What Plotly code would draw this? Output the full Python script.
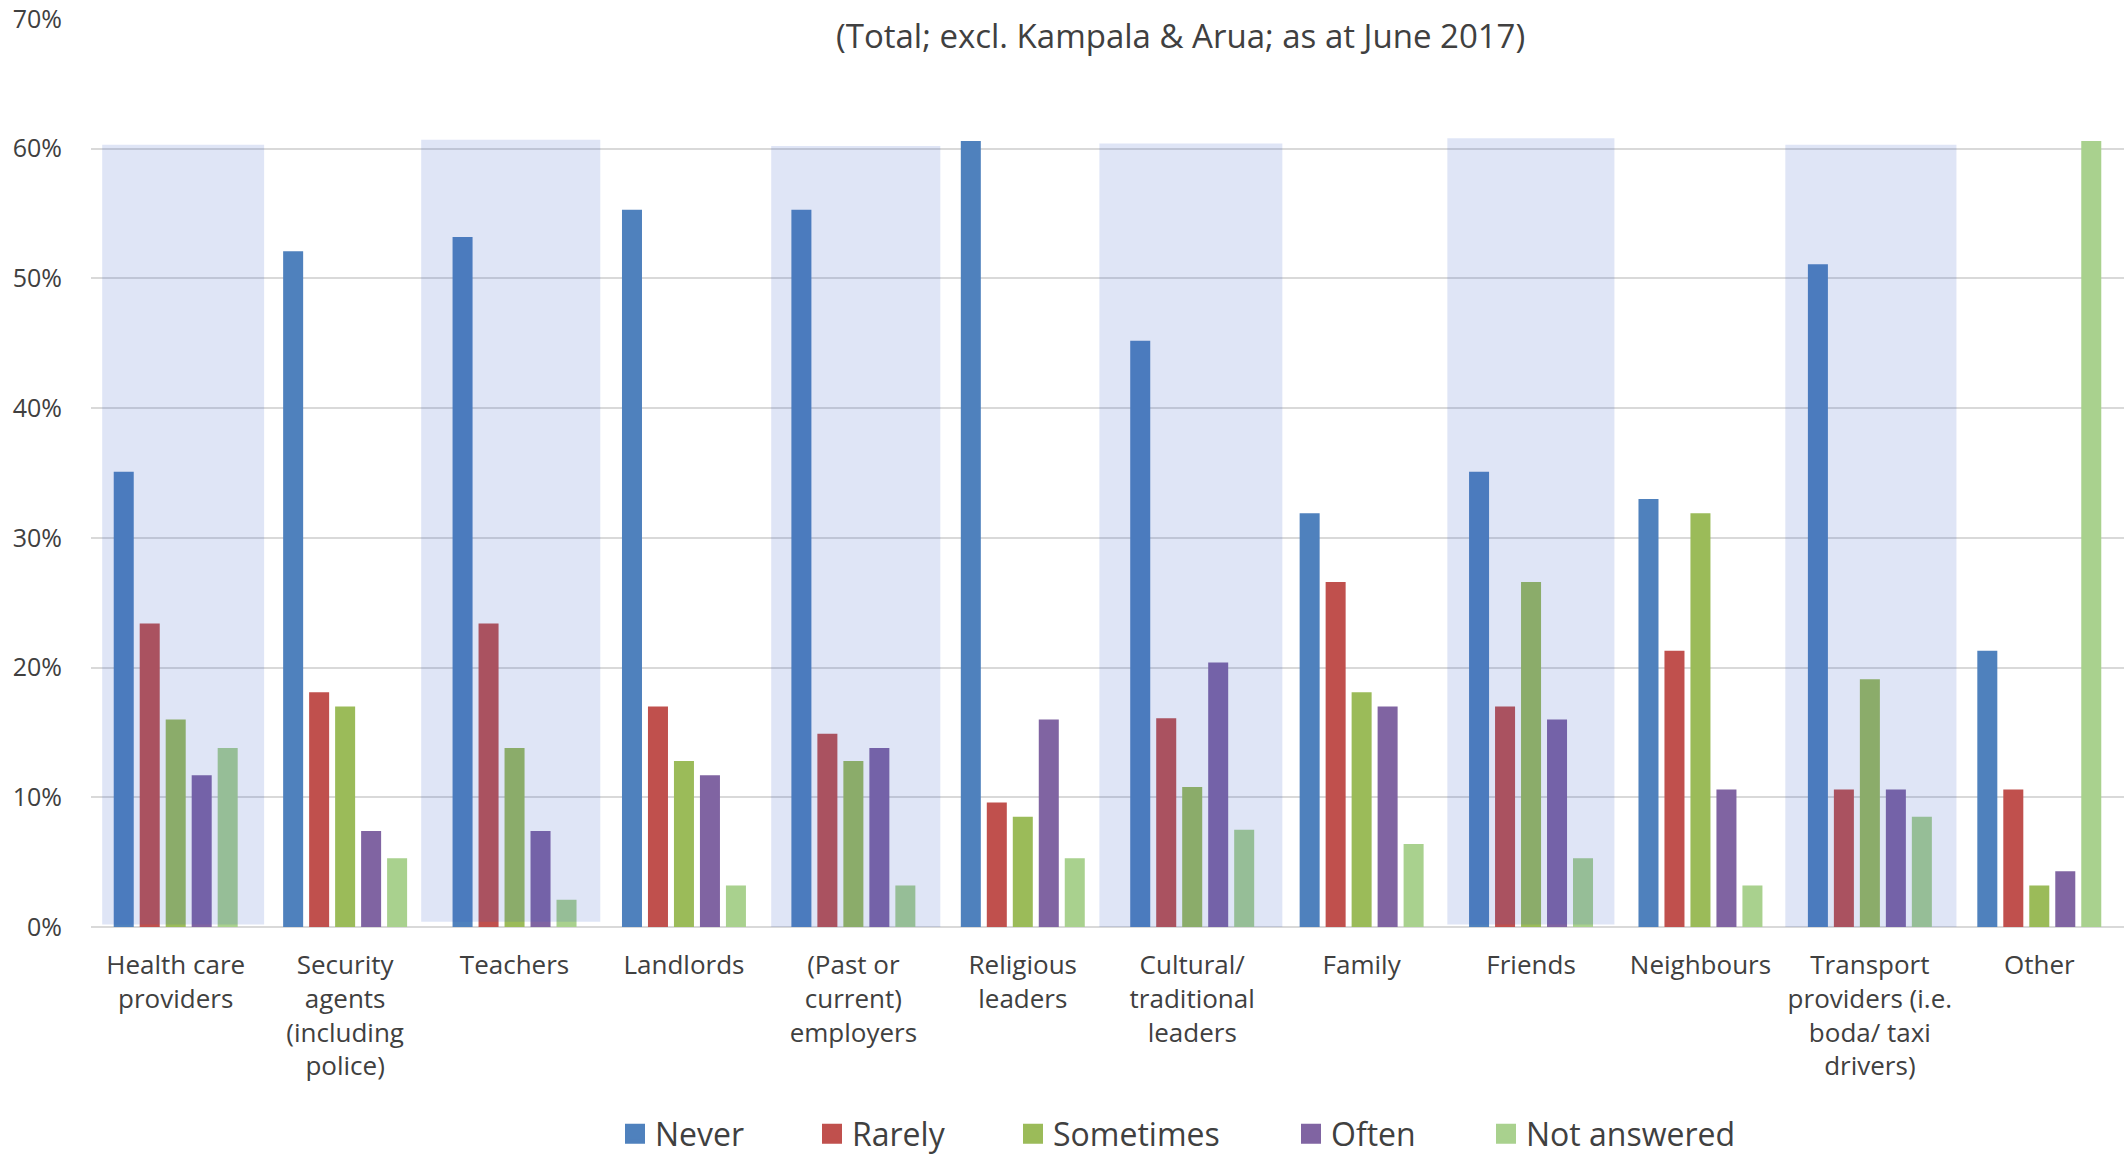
import plotly.graph_objects as go

# ---- data (percent of respondents) ----
categories = [
    "Health care<br>providers",
    "Security<br>agents<br>(including<br>police)",
    "Teachers",
    "Landlords",
    "(Past or<br>current)<br>employers",
    "Religious<br>leaders",
    "Cultural/<br>traditional<br>leaders",
    "Family",
    "Friends",
    "Neighbours",
    "Transport<br>providers (i.e.<br>boda/ taxi<br>drivers)",
    "Other",
]
series_names = ["Never", "Rarely", "Sometimes", "Often", "Not answered"]
never = [35.1, 52.1, 53.2, 55.3, 55.3, 60.6, 45.2, 31.9, 35.1, 33.0, 51.1, 21.3]
rarely = [23.4, 18.1, 23.4, 17.0, 14.9, 9.6, 16.1, 26.6, 17.0, 21.3, 10.6, 10.6]
sometimes = [16.0, 17.0, 13.8, 12.8, 12.8, 8.5, 10.8, 18.1, 26.6, 31.9, 19.1, 3.2]
often = [11.7, 7.4, 7.4, 11.7, 13.8, 16.0, 20.4, 17.0, 16.0, 10.6, 10.6, 4.3]
not_answered = [13.8, 5.3, 2.1, 3.2, 3.2, 5.3, 7.5, 6.4, 5.3, 3.2, 8.5, 60.6]
subtitle = "(Total; excl. Kampala &amp; Arua; as at June 2017)"

# ---- styling ----
colors = ["#4F81BD", "#C0504D", "#9BBB59", "#8064A2", "#A9D18E"]
FONT = "Open Sans, Lato, DejaVu Sans, sans-serif"
TEXT = "#404040"
GRID = "#D9D9D9"

W, H = 2126, 1155
ML, MR, MT, MB = 91, 2, 19, 228
PW, PH = W - ML - MR, H - MT - MB


def px_x(p):
    return (p - ML) / PW


def px_y(p):
    return (MT + PH - p) / PH


fig = go.Figure()

values = [never, rarely, sometimes, often, not_answered]
for name, vals, col in zip(series_names, values, colors):
    fig.add_trace(go.Bar(
        x=list(range(len(categories))), y=vals, name=name,
        marker=dict(color=col, line=dict(width=0)),
        legendgroup=name, showlegend=False,
        hovertemplate="%{y:.1f}%<extra>" + name + "</extra>",
    ))

# legend entries (square swatches), one legend per entry for exact placement
legend_left_px = [615, 812, 1013, 1291, 1486]
legend_ids = ["legend", "legend2", "legend3", "legend4", "legend5"]
for name, col, lid in zip(series_names, colors, legend_ids):
    fig.add_trace(go.Scatter(
        x=[None], y=[None], mode="markers", name=name,
        marker=dict(symbol="square", size=16, color=col, line=dict(color=col, width=4)),
        legendgroup=name, showlegend=True, legend=lid, hoverinfo="skip",
    ))

legend_layout = {}
for lid, lx in zip(legend_ids, legend_left_px):
    legend_layout[lid] = dict(
        x=px_x(lx), y=px_y(1134), xanchor="left", yanchor="middle",
        orientation="h", bgcolor="rgba(0,0,0,0)", borderwidth=0,
        font=dict(family=FONT, size=32, color=TEXT), itemwidth=30,
    )

# shaded highlight bands over alternate categories: (x0, x1, y0, y1)
bands = [
    (-0.434, 0.522, 0.2, 60.3),
    (1.449, 2.506, 0.4, 60.7),
    (3.515, 4.513, -0.2, 60.2),
    (5.452, 6.532, -0.3, 60.4),
    (7.506, 8.492, 0.2, 60.8),
    (9.501, 10.511, -0.3, 60.3),
]
shapes = []
for x0, x1, y0, y1 in bands:
    shapes.append(dict(
        type="rect", xref="x", yref="y", x0=x0, x1=x1, y0=y0, y1=y1,
        fillcolor="rgba(55,92,196,0.16)", line=dict(width=0), layer="above",
    ))
# white title panel sitting over the top gridline
shapes.append(dict(
    type="rect", xref="paper", yref="paper",
    x0=px_x(459), x1=px_x(1903), y0=px_y(62), y1=px_y(0),
    fillcolor="white", line=dict(width=0), layer="above",
))

fig.update_layout(
    width=W, height=H,
    margin=dict(l=ML, r=MR, t=MT, b=MB, pad=0, autoexpand=False),
    paper_bgcolor="white", plot_bgcolor="white",
    barmode="group", bargap=0.233, bargroupgap=0.23,
    font=dict(family=FONT, color=TEXT),
    shapes=shapes,
    annotations=[dict(
        text=subtitle, xref="paper", yref="paper",
        x=px_x(1180), y=px_y(36), xanchor="center", yanchor="middle",
        showarrow=False, font=dict(family=FONT, size=33, color=TEXT),
    )],
    **legend_layout,
)

fig.update_xaxes(
    type="linear", range=[-0.5, 11.5], automargin=False,
    tickmode="array", tickvals=list(range(len(categories))), ticktext=categories,
    showgrid=False, zeroline=False, showline=False, ticks="",
    tickfont=dict(family=FONT, size=26, color=TEXT),
    ticklabelstandoff=20, fixedrange=True,
)
fig.update_yaxes(
    range=[0, 70], dtick=10, ticksuffix="%", automargin=False,
    showgrid=True, gridcolor=GRID, gridwidth=2,
    zeroline=True, zerolinecolor=GRID, zerolinewidth=2,
    showline=False, ticks="",
    tickfont=dict(family=FONT, size=25, color=TEXT),
    ticklabelstandoff=28, fixedrange=True,
)

fig.write_html("out.html", config={"displayModeBar": False})
